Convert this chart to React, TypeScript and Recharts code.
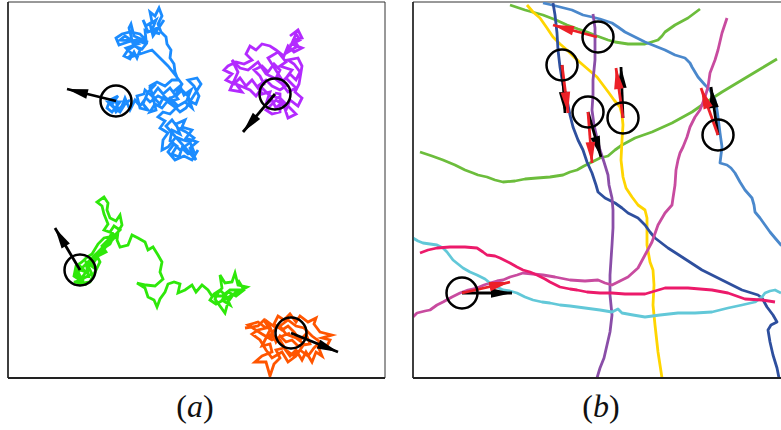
import { ComposedChart, Line, Scatter, XAxis, YAxis, ReferenceArea, ReferenceLine } from 'recharts';

type P = [number, number];
const toPts = (a: P[]) => a.map(([x, y]) => ({ x, y }));

// ---- panel (a): random walks ----
const blueWalk: P[] = [
  [198,150],[192,160],[184,156],[175,160],[168,152],[174,144],[180,150],[188,144],[194,138],[186,132],[178,128],[172,120],[166,126],
  [196,160],[190,148],[197,142],[186,138],[192,130],[182,127],[185,120],[176,124],[180,134],[172,130],[170,141],[177,146],[172,154],[179,157],[182,148],[188,154],[194,152],[190,142],[183,140],[176,137],[168,147],[162,150],[163,140],[168,133],[160,128],[165,121],[158,117],[163,112],
  [170,114],[176,108],[168,102],[178,99],[173,92],[180,86],[184,95],[191,90],[187,100],[196,104],[199,96],[194,86],[188,80],[197,78],[201,84],[196,92],[186,108],[180,112],[172,104],[164,96],[160,104],[154,98],[150,88],[156,84],[148,92],[143,104],[148,110],[140,108],[137,96],[144,94],
  [145,90],[152,96],[158,88],[163,94],[170,88],[176,96],[182,90],[188,96],[192,108],[185,102],[178,106],[170,98],[162,108],[155,104],[150,112],[156,110],
  [150,86],[157,82],[165,86],[172,80],[178,80],[175,72],[174,64],[170,58],[171,50],[167,44],[166,37],
  [161,32],[158,24],[162,16],[159,8],[155,16],[150,12],[152,22],[146,26],[143,20],[148,32],[154,30],[160,26],[164,20],[153,36],[150,24],[156,20],[152,30],[160,34],[145,30],
  [146,40],[140,34],[130,32],[122,34],[116,38],[119,45],[128,42],[136,40],[146,44],[142,49],[134,46],[128,50],[124,56],[130,59],[134,52],[137,58],[140,50],[133,44],[129,28],[131,24],[134,36],[148,42],
  [120,40],[125,36],[131,40],[138,44],[126,48],[132,54],[128,58],
  [152,50],[160,58],[168,66],[176,76],[182,84],
  [175,96],[166,100],[158,96],[150,102],[146,98],[140,106],[135,100],[130,110],[125,98],[122,106],[116,112],[112,104],[118,96],[110,100],[107,108],[112,112],[120,102],
  [108,102],[114,108],[120,112],[125,104],[130,100],[118,110],[116,100],
];
const purpleWalk: P[] = [
  [290,36],[298,30],[302,38],[294,40],[298,46],[288,52],
  [296,34],[300,40],[292,44],[302,48],[294,52],[288,46],[284,56],[276,50],[270,46],[262,44],[256,50],[250,46],[246,54],[252,60],[244,64],[236,62],[228,66],[224,70],[232,74],[226,80],[234,84],[240,78],[246,86],[252,80],[258,88],[264,84],[260,76],[254,70],[262,66],[268,72],[274,64],[280,70],[276,78],[284,80],[290,74],[296,80],[300,72],[294,64],[288,60],[298,58],[302,66],[299,84],[295,92],[302,98],[298,106],[290,100],[286,110],[282,102],[276,108],[272,100],[266,104],[270,92],[262,94],[258,86],[266,80],[272,86],[280,90],[286,86],
  [268,58],[278,52],[286,62],[280,66],[292,70],[286,78],[296,88],[288,92],[282,84],[274,78],[266,74],[258,62],[248,70],[240,68],[232,60],[238,72],[230,90],[242,92],[236,84],[250,90],[256,96],[262,88],[270,96],[280,98],[290,108],[296,114],[288,118],[284,106],[276,100],[266,110],[272,114],[280,112],
  [280,94],[275,93],
];
const greenWalk: P[] = [
  [238,280],[244,290],[236,296],[228,292],[222,300],[230,305],[226,296],[220,290],[214,294],[210,300],[216,304],
  [247,287],[238,285],[235,273],[232,282],[225,283],[220,275],[222,288],[218,293],[215,299],[225,313],[228,302],[233,295],[238,290],[230,290],[222,296],[212,296],[208,290],[202,285],[196,292],[192,285],[185,290],[178,293],[180,284],[174,282],[168,284],[165,292],[160,299],[157,307],[154,300],[148,297],[145,288],[137,283],[146,285],[155,286],[163,279],[160,272],[162,262],[158,255],[153,247],[148,250],[145,242],[138,238],[132,235],[128,245],[120,247],[117,240],[118,232],[122,225],[120,215],[116,221],[110,218],[107,210],[108,203],[104,197],[97,202],[102,206],[104,214],[108,224],[104,230],[112,233],[108,240],[102,246],[106,252],[98,256],[94,262],[90,258],[94,268],[86,262],[88,274],[80,266],[76,274],[82,280],[74,282],[84,284],[78,272],
  [120,230],[114,226],[110,232],[116,236],
  [88,266],[92,274],[84,278],[78,284],[90,282],[96,270],[100,262],[96,254],[104,248],[110,244],[114,236],[104,238],[98,244],[92,254],[86,258],[82,262],[76,266],[74,276],[80,280],[86,272],[80,270],
];
const orangeWalk: P[] = [
  [245,328],[258,326],[264,320],[270,330],[266,338],[262,346],[270,344],[272,352],[262,356],[255,362],[266,362],[270,376],[274,364],[280,358],[276,350],[284,348],[290,356],[296,350],[302,360],[306,352],[312,362],[316,352],[322,356],[318,346],[326,348],[330,340],[322,338],[332,335],[320,332],[314,324],[316,318],[308,322],[300,316],[296,322],[290,314],[284,320],[278,316],[274,324],[282,330],[288,326],[294,332],[300,340],[306,334],[310,344],[298,346],[292,340],[286,342],[280,336],[276,342],
  [268,322],[276,328],[270,336],[280,340],[286,350],[294,356],[300,350],[308,356],[314,348],[320,342],[312,336],[304,328],[296,326],[288,320],[280,326],[286,334],[296,338],[304,344],[296,356],[288,362],[282,352],[272,358],[266,350],[260,340],[252,334],[258,330],[266,328],[258,322],[248,325],
  [262,334],[272,340],[290,333],
];
const circlesA: P[] = [[116,101],[275,94],[80,270],[291,333]];
const arrowsA: [P, P][] = [
  [[116,101],[67,89]],
  [[275,94],[243,132]],
  [[80,270],[55,228]],
  [[291,333],[338,352]],
];

// ---- panel (b): tracks ----
const greenTop: P[] = [[510,5],[525,10],[543,15],[556,20],[567,25],[578,29],[587,32],[597,36],[608,40],[615,42],[628,44],[645,44],[658,40],[662,36],[665,32],[675,25],[688,18],[700,9]];
const greenLow: P[] = [[420,152],[432,156],[443,160],[455,165],[465,170],[473,173],[478,175],[487,177],[495,180],[503,182],[515,181],[525,179],[537,178],[550,177],[563,175],[570,172],[577,170],[584,166],[590,163],[600,158],[608,156],[615,150],[622,145],[635,138],[652,132],[672,123],[692,112],[705,103],[722,92],[742,80],[762,68],[777,59]];
const yellowTrack: P[] = [[527,5],[533,12],[540,18],[547,28],[553,37],[560,44],[567,50],[575,58],[583,65],[590,71],[597,77],[603,85],[609,93],[614,100],[620,107],[622,115],[623,125],[622,140],[621,160],[623,177],[626,188],[632,197],[638,205],[645,210],[647,218],[647,232],[647,245],[650,262],[653,270],[654,285],[653,305],[655,325],[658,352],[662,378]];
const violetTrack: P[] = [[593,14],[595,28],[595,45],[595,60],[593,80],[593,95],[592,110],[594,125],[597,138],[600,150],[604,162],[608,175],[609,185],[612,198],[613,210],[613,228],[612,245],[611,260],[610,275],[610,295],[612,315],[610,332],[607,345],[604,358],[600,368],[597,378]];
const steelTrack: P[] = [[543,3],[552,5],[560,7],[572,10],[583,15],[592,17],[600,19],[612,23],[618,27],[625,32],[635,37],[645,42],[655,46],[665,50],[675,55],[685,58],[690,63],[692,67],[698,77],[705,85],[710,90],[713,96],[715,100],[717,110],[718,117],[719,125],[720,133],[721,140],[722,147],[721,155],[720,163],[727,165],[731,168],[735,173],[740,182],[745,190],[752,198],[754,205],[755,212],[760,218],[765,225],[770,232],[775,238],[781,245],[790,252]];
const navyTrack: P[] = [[553,3],[555,15],[557,33],[558,50],[560,67],[563,85],[567,100],[570,115],[573,127],[578,140],[583,150],[587,162],[592,173],[596,185],[598,192],[605,198],[615,203],[622,208],[628,213],[638,218],[645,225],[650,232],[655,238],[668,248],[682,257],[702,270],[722,280],[742,290],[758,295],[762,298],[767,307],[773,315],[777,322],[771,325],[768,330],[770,342],[773,355],[777,368],[779,378]];
const magentaTrack: P[] = [[413,317],[417,313],[425,311],[430,310],[437,305],[443,302],[452,297],[460,293],[468,290],[477,288],[484,285],[490,283],[497,281],[503,280],[510,277],[517,275],[523,273],[533,274],[543,275],[555,277],[570,280],[585,281],[598,280],[605,283],[612,285],[618,282],[628,277],[638,268],[645,255],[652,242],[658,225],[665,213],[672,205],[673,198],[675,185],[676,170],[678,160],[680,153],[683,147],[687,137],[690,127],[695,117],[700,110],[705,97],[708,87],[710,73],[715,60],[718,50],[722,33],[727,18]];
const crimsonTrack: P[] = [[420,253],[428,250],[437,248],[450,247],[465,247],[477,248],[483,252],[487,255],[495,256],[500,258],[510,263],[517,267],[523,270],[530,272],[537,275],[545,279],[550,282],[560,287],[570,289],[577,290],[587,292],[600,293],[612,293],[625,294],[645,294],[655,291],[665,288],[676,288],[688,288],[700,289],[712,290],[728,293],[745,299],[762,300],[775,302]];
const cyanTrack: P[] = [[413,238],[418,241],[423,243],[430,244],[437,245],[443,248],[447,252],[450,256],[453,260],[458,264],[463,268],[470,272],[477,275],[485,279],[490,283],[497,287],[503,290],[510,291],[517,293],[525,297],[533,300],[542,302],[550,303],[560,305],[570,306],[585,308],[600,310],[612,312],[618,309],[622,313],[633,315],[645,317],[660,315],[678,313],[695,313],[712,312],[720,310],[728,308],[742,305],[755,302],[762,297],[765,293],[770,291],[775,290],[781,293]];
const circlesB: P[] = [[598,37],[562,65],[588,112],[623,118],[718,135],[462,293]];
const blackArrowsB: [P, P][] = [
  [[562,65],[565,113]],
  [[588,112],[601,157]],
  [[623,118],[621,67]],
  [[718,135],[711,87]],
  [[462,293],[512,293]],
];
const redArrowsB: [P, P][] = [
  [[597,37],[553,25]],
  [[562,65],[568,113]],
  [[588,112],[592,163]],
  [[623,118],[616,68]],
  [[718,135],[701,88]],
  [[462,293],[510,282]],
];

const Y_DOMAIN: [number, number] = [2, 378];

const headDot = (color: string) => (p: any) => {
  const pts = p.points;
  if (p.index !== 1 || !pts || pts.length < 2) return <g key={`d${p.index}`} />;
  const a = pts[0];
  const b = pts[1];
  const dx = b.x - a.x;
  const dy = b.y - a.y;
  const len = Math.hypot(dx, dy) || 1;
  const ux = dx / len;
  const uy = dy / len;
  const L = 21;
  const W = 4.8;
  const bx = b.x - ux * L;
  const by = b.y - uy * L;
  return (
    <polygon
      key={`h${p.index}`}
      points={`${b.x},${b.y} ${bx - uy * W},${by + ux * W} ${bx + uy * W},${by - ux * W}`}
      fill={color}
    />
  );
};

const ringShape = (p: any) => (
  <circle cx={p.cx} cy={p.cy} r={15.5} fill="none" stroke="#000" strokeWidth={2.5} />
);

interface Track { pts: P[]; color: string; width: number; join: 'miter' | 'round' }

function Panel({ left, xDomain, tracks, circles, arrows }: {
  left: number;
  xDomain: [number, number];
  tracks: Track[];
  circles: P[];
  arrows: { a: [P, P]; color: string }[];
}) {
  return (
    <div style={{ position: 'absolute', left, top: 0 }}>
      <ComposedChart width={395} height={392} margin={{ top: 2, right: 10, bottom: 14, left: 8 }}>
        <XAxis type="number" dataKey="x" domain={xDomain} allowDataOverflow hide />
        <YAxis type="number" dataKey="y" domain={Y_DOMAIN} allowDataOverflow reversed hide />
        <ReferenceArea x1={xDomain[0]} x2={xDomain[1]} y1={Y_DOMAIN[0]} y2={Y_DOMAIN[1]} fill="none" stroke="#333" strokeWidth={1} fillOpacity={0} />
        {tracks.map((t, i) => (
          <Line
            key={`t${i}`}
            data={toPts(t.pts)}
            dataKey="y"
            type="linear"
            stroke={t.color}
            strokeWidth={t.width}
            strokeLinejoin={t.join}
            dot={false}
            activeDot={false}
            isAnimationActive={false}
          />
        ))}
        <Scatter data={toPts(circles)} dataKey="y" shape={ringShape} isAnimationActive={false} />
        {arrows.map((ar, i) => (
          <Line
            key={`a${i}`}
            data={toPts(ar.a)}
            dataKey="y"
            type="linear"
            stroke={ar.color}
            strokeWidth={2.8}
            dot={headDot(ar.color)}
            activeDot={false}
            isAnimationActive={false}
          />
        ))}
        <ReferenceLine y={Y_DOMAIN[1]} stroke="#222" strokeWidth={2} />
        <ReferenceLine x={xDomain[0]} stroke="#222" strokeWidth={1.5} />
      </ComposedChart>
    </div>
  );
}

const labelStyle = {
  position: 'absolute' as const,
  top: 388,
  width: 100,
  textAlign: 'center' as const,
  fontFamily: '"Liberation Serif", serif',
  fontSize: 32,
  lineHeight: '36px',
  color: '#111',
};

export default function App() {
  const tracksA: Track[] = [
    { pts: blueWalk, color: '#1b8cff', width: 2.8, join: 'miter' },
    { pts: purpleWalk, color: '#b32aff', width: 2.8, join: 'miter' },
    { pts: greenWalk, color: '#2ee80a', width: 2.8, join: 'miter' },
    { pts: orangeWalk, color: '#ff5500', width: 2.8, join: 'miter' },
  ];
  const tracksB: Track[] = [
    { pts: greenTop, color: '#6cbd3c', width: 2.8, join: 'round' },
    { pts: greenLow, color: '#6cbd3c', width: 2.8, join: 'round' },
    { pts: yellowTrack, color: '#ffd500', width: 2.8, join: 'round' },
    { pts: steelTrack, color: '#4a88cc', width: 2.8, join: 'round' },
    { pts: navyTrack, color: '#2e4f9e', width: 2.8, join: 'round' },
    { pts: violetTrack, color: '#8a4ea8', width: 2.8, join: 'round' },
    { pts: magentaTrack, color: '#c84b9f', width: 2.8, join: 'round' },
    { pts: cyanTrack, color: '#62c8d8', width: 2.8, join: 'round' },
    { pts: crimsonTrack, color: '#ec1a6a', width: 2.8, join: 'round' },
  ];
  const arrowsAList = arrowsA.map((a) => ({ a, color: '#000' }));
  const arrowsB = [
    ...blackArrowsB.map((a) => ({ a, color: '#000' })),
    ...redArrowsB.map((a) => ({ a, color: '#ec2027' })),
  ];
  return (
    <div style={{ position: 'absolute', left: 0, top: 0, width: 781, height: 430, overflow: 'hidden', background: '#fff' }}>
      <Panel left={0} xDomain={[8, 385]} tracks={tracksA} circles={circlesA} arrows={arrowsAList} />
      <Panel left={405} xDomain={[413, 790]} tracks={tracksB} circles={circlesB} arrows={arrowsB} />
      <div style={{ ...labelStyle, left: 145 }}>(<i>a</i>)</div>
      <div style={{ ...labelStyle, left: 551 }}>(<i>b</i>)</div>
    </div>
  );
}
